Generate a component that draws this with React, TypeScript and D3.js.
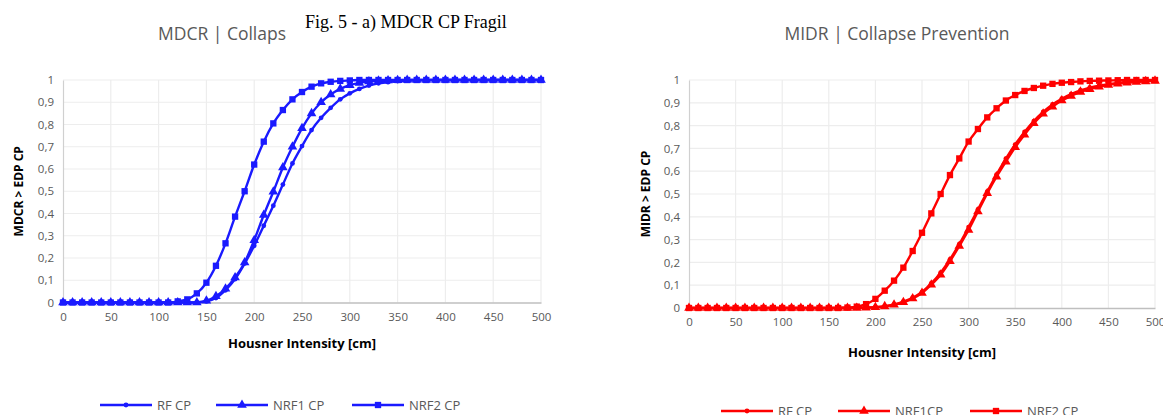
import React, { useEffect, useRef } from 'react'
import * as d3 from 'd3'

// Housner intensity steps [cm]
const intensity = [0, 10, 20, 30, 40, 50, 60, 70, 80, 90, 100, 110, 120, 130, 140, 150, 160, 170, 180, 190, 200,
    210, 220, 230, 240, 250, 260, 270, 280, 290, 300, 310, 320, 330, 340, 350, 360, 370, 380, 390, 400,
    410, 420, 430, 440, 450, 460, 470, 480, 490, 500]

// MDCR | Collaps
const mdcrRF = [0, 0, 0, 0, 0, 0, 0, 0, 0, 0, 0, 0, 0, 0, 0.001, 0.005, 0.02, 0.055, 0.105, 0.175, 0.255,
    0.345, 0.435, 0.53, 0.625, 0.703, 0.775, 0.83, 0.875, 0.913, 0.94, 0.96, 0.975, 0.985, 0.99, 0.995, 0.997, 0.998, 0.999, 1, 1,
    1, 1, 1, 1, 1, 1, 1, 1, 1, 1]
const mdcrNRF1 = [0, 0, 0, 0, 0, 0, 0, 0, 0, 0, 0, 0, 0, 0, 0, 0.008, 0.028, 0.062, 0.112, 0.18, 0.28,
    0.393, 0.498, 0.607, 0.7, 0.783, 0.85, 0.9, 0.935, 0.96, 0.977, 0.987, 0.993, 0.996, 0.998, 0.999, 1, 1, 1, 1, 1,
    1, 1, 1, 1, 1, 1, 1, 1, 1, 1]
const mdcrNRF2 = [0, 0, 0, 0, 0, 0, 0, 0, 0, 0, 0, 0, 0.005, 0.014, 0.041, 0.089, 0.165, 0.266, 0.386, 0.5, 0.62,
    0.723, 0.805, 0.865, 0.913, 0.946, 0.97, 0.985, 0.992, 0.996, 0.998, 1, 1, 1, 1, 1, 1, 1, 1, 1, 1,
    1, 1, 1, 1, 1, 1, 1, 1, 1, 1]

// MIDR | Collapse Prevention
const midrRF = [0, 0, 0, 0, 0, 0, 0, 0, 0, 0, 0, 0, 0, 0, 0, 0, 0, 0, 0.001, 0.002, 0.004,
    0.008, 0.016, 0.028, 0.045, 0.07, 0.108, 0.155, 0.213, 0.28, 0.355, 0.432, 0.51, 0.585, 0.655, 0.717, 0.772, 0.82, 0.86, 0.893, 0.918,
    0.938, 0.954, 0.966, 0.975, 0.982, 0.987, 0.991, 0.993, 0.995, 0.997]
const midrNRF1 = [0, 0, 0, 0, 0, 0, 0, 0, 0, 0, 0, 0, 0, 0, 0, 0, 0, 0, 0, 0.001, 0.003,
    0.007, 0.014, 0.025, 0.042, 0.066, 0.102, 0.146, 0.205, 0.272, 0.342, 0.423, 0.503, 0.576, 0.642, 0.705, 0.76, 0.81, 0.852, 0.883, 0.91,
    0.93, 0.948, 0.96, 0.97, 0.978, 0.984, 0.988, 0.991, 0.994, 0.996]
const midrNRF2 = [0, 0, 0, 0, 0, 0, 0, 0, 0, 0, 0, 0, 0, 0, 0, 0, 0, 0.002, 0.006, 0.017, 0.04,
    0.076, 0.12, 0.177, 0.25, 0.33, 0.415, 0.5, 0.583, 0.656, 0.73, 0.785, 0.836, 0.876, 0.91, 0.934, 0.952, 0.965, 0.975, 0.983, 0.988,
    0.991, 0.994, 0.996, 0.997, 0.998, 0.999, 1, 1, 1, 1]

const xTicks = [0, 50, 100, 150, 200, 250, 300, 350, 400, 450, 500]
const yTicks = [0, 0.1, 0.2, 0.3, 0.4, 0.5, 0.6, 0.7, 0.8, 0.9, 1]

const leftNames = ["RF CP", "NRF1 CP", "NRF2 CP"]
const rightNames = ["RF CP", "NRF1CP", "NRF2 CP"]

const W = 1163
const H = 415
const FONT = "'Open Sans', Lato, sans-serif"

function App() {
    const ref = useRef<SVGSVGElement>(null)

    useEffect(() => {
        const svg = d3.select(ref.current)
        svg.selectAll("*").remove()

        const symbols = [d3.symbolCircle, d3.symbolTriangle, d3.symbolSquare]
        const symSize = [18, 40, 40]

        const panels = [
            {
                title: "MDCR | Collaps", titleX: 222, titleY: 40,
                yLabel: "MDCR > EDP CP", yLabelX: 23,
                left: 63, right: 541, top: 80, bottom: 302.5,
                color: "#1a1aff", series: [mdcrRF, mdcrNRF1, mdcrNRF2], names: leftNames,
                legendY: 405, legendX: [100, 216, 352], xTitleY: 348
            },
            {
                title: "MIDR | Collapse Prevention", titleX: 897, titleY: 40,
                yLabel: "MIDR > EDP CP", yLabelX: 650,
                left: 689, right: 1155, top: 80, bottom: 308,
                color: "#ff0000", series: [midrRF, midrNRF1, midrNRF2], names: rightNames,
                legendY: 411, legendX: [721, 838, 970], xTitleY: 357
            }
        ]

        panels.forEach(p => {
            const x = d3.scaleLinear().domain([0, 500]).range([p.left, p.right])
            const y = d3.scaleLinear().domain([0, 1]).range([p.bottom, p.top])
            const g = svg.append("g")

            // grid
            g.append("g").selectAll("line").data(yTicks.slice(1)).join("line")
                .attr("x1", p.left).attr("x2", p.right)
                .attr("y1", d => y(d)).attr("y2", d => y(d))
                .attr("stroke", "#ededed").attr("stroke-width", 1.2)
            g.append("g").selectAll("line").data(xTicks.slice(1)).join("line")
                .attr("x1", d => x(d)).attr("x2", d => x(d))
                .attr("y1", p.top).attr("y2", p.bottom)
                .attr("stroke", "#ededed").attr("stroke-width", 1.2)

            // axes
            const xAxis = d3.axisBottom(x).tickValues(xTicks).tickSize(0).tickPadding(10)
            g.append("g").attr("transform", `translate(0,${p.bottom})`).call(xAxis)
                .call(a => a.select(".domain").attr("stroke", "#bfbfbf").attr("stroke-width", 1.5))
                .call(a => a.selectAll("text").attr("fill", "#595959").attr("font-size", 11.5).attr("font-family", FONT))
            const yAxis = d3.axisLeft(y).tickValues(yTicks).tickSize(0).tickPadding(9)
                .tickFormat(d => d3.format("~g")(d as number).replace(".", ","))
            g.append("g").attr("transform", `translate(${p.left},0)`).call(yAxis)
                .call(a => a.select(".domain").attr("stroke", "#d0d0d0").attr("stroke-width", 1.2))
                .call(a => a.selectAll("text").attr("fill", "#595959").attr("font-size", 11.5).attr("font-family", FONT))

            // titles
            g.append("text").attr("x", p.titleX).attr("y", p.titleY).attr("text-anchor", "middle")
                .attr("font-family", FONT).attr("font-size", 17.5).attr("fill", "#595959").text(p.title)
            g.append("text").attr("x", (p.left + p.right) / 2).attr("y", p.xTitleY).attr("text-anchor", "middle")
                .attr("font-family", FONT).attr("font-size", 13).attr("font-weight", "bold").attr("fill", "#000")
                .text("Housner Intensity [cm]")
            g.append("text").attr("transform", `translate(${p.yLabelX},${(p.top + p.bottom) / 2}) rotate(-90)`)
                .attr("text-anchor", "middle").attr("font-family", FONT).attr("font-size", 12)
                .attr("font-weight", "bold").attr("fill", "#000").text(p.yLabel)

            // curves
            const line = d3.line<number>().x((d, i) => x(intensity[i])).y(d => y(d)).curve(d3.curveMonotoneX)
            p.series.forEach((s, k) => {
                const sg = g.append("g")
                sg.append("path").attr("d", line(s)).attr("fill", "none")
                    .attr("stroke", p.color).attr("stroke-width", 2.4)
                sg.selectAll("path.m").data(s).join("path").attr("class", "m")
                    .attr("transform", (d, i) => `translate(${x(intensity[i])},${y(d)})`)
                    .attr("d", d3.symbol().type(symbols[k]).size(symSize[k])())
                    .attr("fill", p.color)
            })

            // legend
            p.names.forEach((name, k) => {
                const lx = p.legendX[k]
                const lg = g.append("g")
                lg.append("line").attr("x1", lx).attr("x2", lx + 52).attr("y1", p.legendY).attr("y2", p.legendY)
                    .attr("stroke", p.color).attr("stroke-width", 2.4)
                lg.append("path").attr("transform", `translate(${lx + 26},${p.legendY})`)
                    .attr("d", d3.symbol().type(symbols[k]).size(symSize[k])()).attr("fill", p.color)
                lg.append("text").attr("x", lx + 57).attr("y", p.legendY).attr("dy", "0.35em")
                    .attr("font-family", FONT).attr("font-size", 13).attr("fill", "#595959").text(name)
            })
        })

        // figure caption
        svg.append("text").attr("x", 305).attr("y", 28)
            .attr("font-family", "'Liberation Serif', 'Times New Roman', serif").attr("font-size", 18)
            .attr("fill", "#000").text("Fig. 5 - a) MDCR CP Fragil")
    }, [])

    return (
        <svg ref={ref} width={W} height={H}
            style={{ position: "absolute", left: 0, top: 0, background: "#fff" }} />
    )
}

export default App
